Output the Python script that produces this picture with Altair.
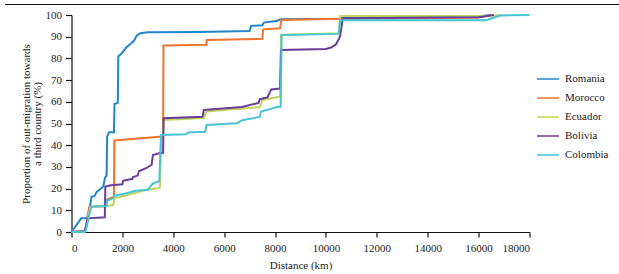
import altair as alt
import pandas as pd

countries = ["Romania", "Morocco", "Ecuador", "Bolivia", "Colombia"]
colors = ["#2186c9", "#f0722c", "#bfd75c", "#6a3e98", "#47c3d7"]

romania_km = [0, 380, 600, 680, 790, 900, 990, 1100, 1250, 1316, 1380, 1400, 1480, 1670, 1690, 1820, 1840,
              1950, 2050, 2150, 2300, 2450, 2560, 2700, 3000, 5000, 7000, 7060, 7500, 7560, 8100, 8200,
              10550, 10650, 16000, 16500]
romania_pct = [0, 6.3, 6.3, 9, 16.3, 16.5, 18.5, 19.5, 21, 25, 26, 44, 46, 46, 59, 59.5, 81,
               82, 83.5, 85, 86.5, 88, 90.5, 91.6, 92, 92.2, 92.6, 95, 95.3, 96.5, 97.3, 98,
               98.3, 99, 99.4, 100]

morocco_km = [0, 540, 700, 1380, 1400, 1670, 1685, 3450, 3600, 3615, 5300, 5320, 7500, 7530, 8200, 8240,
              10500, 16000, 16500]
morocco_pct = [0, 0.5, 11.7, 11.9, 15, 16.3, 42.2, 43.9, 44, 86, 86.3, 88.5, 89, 93.4, 93.9, 97.7,
               98.3, 98.8, 100]

ecuador_km = [0, 540, 740, 1370, 1630, 1700, 2000, 2500, 2900, 3470, 3530, 3600, 3620, 5200, 5300, 7400,
              7500, 8200, 8230, 10500, 10560, 16500, 16900]
ecuador_pct = [0, 0.3, 11.5, 12, 12.4, 15.5, 16.5, 18, 19.4, 20.3, 44, 44.5, 51.6, 52.5, 55.5, 57.5,
               60.8, 62.4, 90.8, 91.6, 99.5, 99.6, 100]

bolivia_km = [0, 520, 640, 1310, 1330, 1550, 2000, 2025, 2400, 2420, 2600, 2650, 2950, 3150, 3200, 3470,
              3600, 3620, 5150, 5200, 6700, 7350, 7400, 7700, 7850, 8200, 8235, 10000, 10200, 10400,
              10550, 10620, 10660, 16000, 16600]
bolivia_pct = [0, 0.3, 6.3, 6.8, 20.9, 21.5, 22, 23.6, 24.5, 25.3, 26, 28, 29.5, 31, 35.5, 36.4,
               36.5, 52.4, 53.1, 56.2, 57.6, 59.5, 61.2, 62, 65.7, 66.1, 83.9, 84.3, 85, 86.5,
               90, 95, 98.5, 99, 100]

colombia_km = [0, 520, 570, 770, 1370, 1400, 1630, 1700, 2000, 2200, 2500, 2900, 3000, 3200, 3450, 3520,
               4500, 4600, 5250, 5310, 6500, 6700, 7400, 7450, 8050, 8220, 8260, 10500, 10560, 16300,
               16850, 18000]
colombia_pct = [0, 0, 1, 11.7, 12, 14.5, 15.5, 16.7, 17.4, 18, 19, 19.4, 19.5, 22.4, 23.4, 44.7,
                45, 45.9, 46.2, 49.3, 50.1, 51.5, 53, 55.5, 57.5, 57.8, 90.8, 91.3, 97.6, 97.6,
                99.8, 100]

x_ticks = list(range(0, 18001, 2000))
y_ticks = list(range(0, 101, 10))

series = {
    "Romania": (romania_km, romania_pct),
    "Morocco": (morocco_km, morocco_pct),
    "Ecuador": (ecuador_km, ecuador_pct),
    "Bolivia": (bolivia_km, bolivia_pct),
    "Colombia": (colombia_km, colombia_pct),
}
rows = []
for c, (ks, ps) in series.items():
    for i, (k, p) in enumerate(zip(ks, ps)):
        rows.append({"country": c, "km": k, "pct": p, "i": i})
df = pd.DataFrame(rows)

FONT = "Liberation Serif"

base = alt.Chart(df).mark_line(strokeWidth=2, interpolate="linear").encode(
    x=alt.X("km:Q", scale=alt.Scale(domain=[0, 18000], nice=False),
            axis=alt.Axis(values=x_ticks, format="d", title="Distance (km)", grid=False,
                          tickSize=5, labelPadding=5, titlePadding=6)),
    y=alt.Y("pct:Q", scale=alt.Scale(domain=[0, 100], nice=False),
            axis=alt.Axis(values=y_ticks, title=["Proportion of out-migration towards", "a third country (%)"],
                          grid=False, tickSize=6, labelPadding=4, titlePadding=3, titleLineHeight=11)),
    color=alt.Color("country:N", scale=alt.Scale(domain=countries, range=colors),
                    legend=alt.Legend(title=None, orient="none", legendX=464.5, legendY=52,
                                      symbolType="stroke", symbolSize=484, symbolStrokeWidth=1.5,
                                      labelFont=FONT, labelFontSize=11, labelColor="#222",
                                      labelOffset=5, rowPadding=2)),
    order="i:Q",
)

layers = [base.transform_filter(alt.datum.country == c) for c in countries]

top_rule = alt.Chart(alt.Data(values=[{}])).mark_rule(color="#111", strokeWidth=1.2).encode(
    x=alt.value(-66.5), x2=alt.value(547.5), y=alt.value(-10.5)
)

chart = alt.layer(*layers, top_rule).properties(
    width=458, height=217,
    autosize=alt.AutoSizeParams(type="none"),
    padding={"left": 71.5, "top": 15, "right": 89.5, "bottom": 42},
).configure_view(stroke=None).configure_axis(
    domainColor="#111", tickColor="#111", labelColor="#222", titleColor="#222",
    labelFont=FONT, titleFont=FONT, labelFontSize=11, titleFontSize=11, titleFontWeight="normal",
    domainWidth=1.2, tickWidth=1.2,
)

chart.save("out.html", embed_options={"renderer": "svg", "actions": False})
